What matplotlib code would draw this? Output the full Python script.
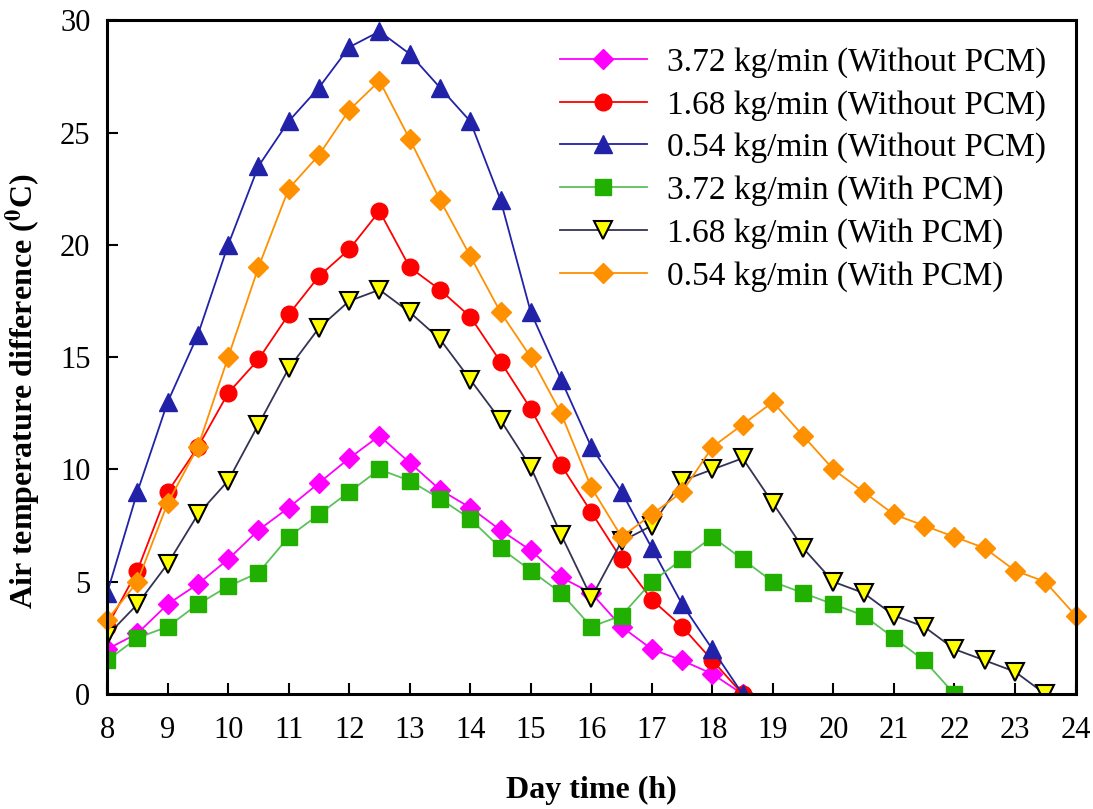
import matplotlib
matplotlib.use("Agg")
import matplotlib.pyplot as plt
import numpy as np

plt.rcParams['font.family'] = ['Liberation Serif', 'DejaVu Serif']
plt.rcParams['mathtext.fontset'] = 'stix'

# hours of the day, half-hour steps
hours_a = np.arange(8, 18.51, 0.5)      # 8 .. 18.5
hours_b = np.arange(8, 22.01, 0.5)      # 8 .. 22
hours_c = np.arange(8, 23.51, 0.5)      # 8 .. 23.5
hours_d = np.arange(8, 24.01, 0.5)      # 8 .. 24

# without PCM
m372_no = [2.0, 2.7, 4.0, 4.9, 6.0, 7.3, 8.3, 9.4, 10.5, 11.5, 10.3, 9.1, 8.3,
           7.3, 6.4, 5.2, 4.5, 3.0, 2.0, 1.5, 0.9, 0.0]
m168_no = [3.0, 5.5, 9.0, 11.0, 13.4, 14.9, 16.9, 18.6, 19.8, 21.5, 19.0, 18.0,
           16.8, 14.8, 12.7, 10.2, 8.1, 6.0, 4.2, 3.0, 1.5, 0.0]
m054_no = [4.5, 9.0, 13.0, 16.0, 20.0, 23.5, 25.5, 27.0, 28.8, 29.5, 28.5, 27.0,
           25.5, 22.0, 17.0, 14.0, 11.0, 9.0, 6.5, 4.0, 2.0, 0.0]

# with PCM
m372_pcm = [1.5, 2.5, 3.0, 4.0, 4.8, 5.4, 7.0, 8.0, 9.0, 10.0, 9.5, 8.7, 7.8,
            6.5, 5.5, 4.5, 3.0, 3.5, 5.0, 6.0, 7.0, 6.0, 5.0, 4.5, 4.0, 3.5,
            2.5, 1.5, 0.0]
m168_pcm = [2.6, 4.0, 5.8, 8.0, 9.5, 12.0, 14.5, 16.3, 17.5, 18.0, 17.0, 15.8,
            14.0, 12.2, 10.1, 7.1, 4.3, 6.8, 7.5, 9.5, 10.0, 10.5, 8.5, 6.5,
            5.0, 4.5, 3.5, 3.0, 2.0, 1.5, 1.0, 0.0]
m054_pcm = [3.3, 5.0, 8.5, 11.0, 15.0, 19.0, 22.5, 24.0, 26.0, 27.3, 24.7, 22.0,
            19.5, 17.0, 15.0, 12.5, 9.2, 7.0, 8.0, 9.0, 11.0, 12.0, 13.0, 11.5,
            10.0, 9.0, 8.0, 7.5, 7.0, 6.5, 5.5, 5.0, 3.5]

fig = plt.figure(figsize=(10.93, 8.09), dpi=100)
ax = fig.add_axes([0.098, 0.142, 0.886, 0.833])

lw = 1.3
ax.plot(hours_a, m372_no, color='#ff00ff', lw=lw, marker='D', ms=10,
        mec='#ff00ff', label='3.72 kg/min (Without PCM)')
ax.plot(hours_a, m168_no, color='#ff0000', lw=lw, marker='o', ms=12,
        mec='#ff0000', label='1.68 kg/min (Without PCM)')
ax.plot(hours_a, m054_no, color='#2222a8', lw=lw, marker='^', ms=13,
        mec='#2222a8', label='0.54 kg/min (Without PCM)')
ax.plot(hours_b, m372_pcm, color='#5cc05c', lw=lw, marker='s', ms=11,
        mfc='#22b000', mec='#22b000', label='3.72 kg/min (With PCM)')
ax.plot(hours_c, m168_pcm, color='#333355', lw=lw, marker='v', ms=13,
        mfc='#ffff00', mec='black', mew=1.5, label='1.68 kg/min (With PCM)')
ax.plot(hours_d, m054_pcm, color='#ff9000', lw=lw, marker='D', ms=10,
        mec='#ff9000', label='0.54 kg/min (With PCM)', clip_on=False)

ax.set_xlim(8, 24)
ax.set_ylim(0, 30)
ax.set_xticks(np.arange(8, 25, 1))
ax.set_yticks(np.arange(0, 31, 5))
ax.tick_params(direction='in', length=8, width=1.5, labelsize=22,
               top=False, right=False)
ax.tick_params(axis='x', pad=16)
ax.tick_params(axis='y', pad=12)
for s in ax.spines.values():
    s.set_linewidth(2.2)

ax.set_xlabel('Day time (h)', fontsize=23, fontweight='bold', labelpad=22)
ax.set_ylabel(r'Air temperature difference ($^\mathbf{0}$C)', fontsize=23,
              fontweight='bold')
ax.yaxis.set_label_coords(-0.066, 0.45)

ax.legend(loc='upper right', frameon=False, fontsize=24, handlelength=2.6,
          handletextpad=0.6, labelspacing=0.36, borderaxespad=0.2,
          bbox_to_anchor=(0.99, 0.99))

fig.savefig('out.png', dpi=100)
